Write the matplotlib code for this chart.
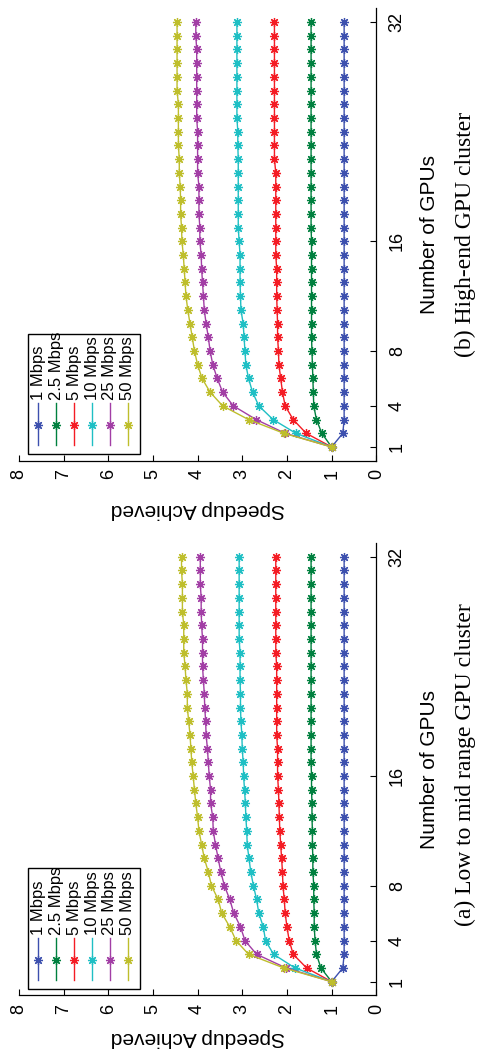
import matplotlib
matplotlib.use('Agg')
import matplotlib.pyplot as plt
from matplotlib.patches import Rectangle

# Number of GPUs (x of the original plot)
gpus = [1, 2, 3, 4, 5, 6, 7, 8, 9, 10, 11, 12, 13, 14, 15, 16,
        17, 18, 19, 20, 21, 22, 23, 24, 25, 26, 27, 28, 29, 30, 31, 32]
gpu_ticks = [1, 4, 8, 16, 32]
speed_ticks = [0, 1, 2, 3, 4, 5, 6, 7, 8]
labels = ['1 Mbps', '2.5 Mbps', '5 Mbps', '10 Mbps', '25 Mbps', '50 Mbps']
colors = ['#3d50ae', '#00803f', '#f41c24', '#1fbfc4', '#a23ea5', '#bebe2c']

# (a) Low to mid range GPU cluster
a_1 = [1.00, 0.75, 0.72, 0.72, 0.72, 0.72, 0.72, 0.72, 0.72, 0.72, 0.72, 0.72, 0.72, 0.72, 0.72, 0.72,
       0.72, 0.72, 0.72, 0.72, 0.72, 0.72, 0.72, 0.72, 0.72, 0.72, 0.72, 0.72, 0.72, 0.72, 0.72, 0.72]
a_2_5 = [1.00, 1.24, 1.34, 1.37, 1.39, 1.39, 1.40, 1.40, 1.42, 1.42, 1.43, 1.43, 1.44, 1.44, 1.45, 1.45,
         1.46, 1.46, 1.46, 1.46, 1.46, 1.46, 1.46, 1.46, 1.46, 1.46, 1.46, 1.46, 1.46, 1.46, 1.46, 1.46]
a_5 = [1.00, 1.56, 1.86, 1.95, 2.00, 2.04, 2.06, 2.09, 2.10, 2.12, 2.14, 2.16, 2.17, 2.18, 2.19, 2.21,
       2.21, 2.21, 2.23, 2.23, 2.23, 2.23, 2.23, 2.23, 2.25, 2.25, 2.25, 2.25, 2.25, 2.25, 2.25, 2.25]
a_10 = [1.00, 1.82, 2.30, 2.48, 2.53, 2.63, 2.68, 2.75, 2.81, 2.85, 2.89, 2.90, 2.92, 2.93, 2.95, 2.97,
        2.98, 3.00, 3.01, 3.03, 3.04, 3.04, 3.05, 3.05, 3.05, 3.07, 3.07, 3.07, 3.07, 3.07, 3.07, 3.07]
a_25 = [1.00, 2.02, 2.68, 2.94, 3.04, 3.19, 3.28, 3.40, 3.48, 3.54, 3.60, 3.65, 3.66, 3.71, 3.71, 3.74,
        3.76, 3.78, 3.81, 3.82, 3.84, 3.85, 3.87, 3.89, 3.89, 3.89, 3.91, 3.92, 3.92, 3.94, 3.94, 3.94]
a_50 = [1.00, 2.07, 2.86, 3.14, 3.28, 3.46, 3.54, 3.69, 3.76, 3.85, 3.91, 3.97, 4.00, 4.04, 4.07, 4.10,
        4.13, 4.15, 4.17, 4.20, 4.23, 4.23, 4.26, 4.28, 4.31, 4.31, 4.31, 4.34, 4.34, 4.34, 4.36, 4.36]

# (b) High-end GPU cluster
b_1 = [1.00, 0.75, 0.72, 0.72, 0.72, 0.72, 0.72, 0.72, 0.72, 0.72, 0.72, 0.72, 0.72, 0.72, 0.72, 0.72,
       0.72, 0.72, 0.72, 0.72, 0.72, 0.72, 0.72, 0.72, 0.72, 0.72, 0.72, 0.72, 0.72, 0.72, 0.72, 0.72]
b_2_5 = [1.00, 1.22, 1.34, 1.40, 1.41, 1.42, 1.43, 1.44, 1.45, 1.45, 1.45, 1.45, 1.45, 1.45, 1.45, 1.45,
         1.46, 1.46, 1.46, 1.46, 1.46, 1.46, 1.46, 1.46, 1.46, 1.46, 1.46, 1.46, 1.46, 1.46, 1.46, 1.46]
b_5 = [1.00, 1.57, 1.86, 2.04, 2.10, 2.14, 2.18, 2.19, 2.21, 2.21, 2.22, 2.23, 2.23, 2.23, 2.25, 2.25,
       2.25, 2.25, 2.25, 2.25, 2.25, 2.28, 2.28, 2.28, 2.28, 2.28, 2.28, 2.28, 2.28, 2.28, 2.28, 2.28]
b_10 = [1.00, 1.80, 2.31, 2.63, 2.77, 2.86, 2.92, 2.94, 2.96, 2.98, 3.03, 3.04, 3.05, 3.05, 3.05, 3.07,
        3.09, 3.09, 3.09, 3.09, 3.09, 3.09, 3.10, 3.10, 3.12, 3.12, 3.12, 3.12, 3.12, 3.12, 3.12, 3.12]
b_25 = [1.00, 2.04, 2.69, 3.20, 3.44, 3.56, 3.66, 3.72, 3.76, 3.81, 3.85, 3.87, 3.89, 3.91, 3.92, 3.95,
        3.95, 3.97, 3.97, 3.97, 4.00, 4.00, 4.00, 4.00, 4.02, 4.02, 4.02, 4.02, 4.02, 4.02, 4.04, 4.04]
b_50 = [1.00, 2.07, 2.86, 3.44, 3.72, 3.90, 4.00, 4.07, 4.12, 4.17, 4.22, 4.26, 4.28, 4.30, 4.32, 4.35,
        4.36, 4.38, 4.38, 4.39, 4.41, 4.41, 4.43, 4.43, 4.43, 4.43, 4.46, 4.46, 4.46, 4.46, 4.46, 4.46]

panels = [
    ([a_1, a_2_5, a_5, a_10, a_25, a_50], '(a) Low to mid range GPU cluster'),
    ([b_1, b_2_5, b_5, b_10, b_25, b_50], '(b) High-end GPU cluster'),
]

W, H = 479, 1049
SANS = 'Liberation Sans'
SERIF = 'Liberation Serif'
STAR = (8, 2, 0)  # matlab style asterisk


def px(x, y):
    """pixel position (from top left) -> figure fraction"""
    return x / W, 1 - y / H


def draw_panel(fig, rect, series, caption, cap_y, lab_y):
    ax = fig.add_axes(rect)
    # the whole original figure is turned 90 deg counter clockwise:
    # speedup runs right->left along the bottom, GPUs run up on the right
    for vals, col in zip(series, colors):
        ax.plot(vals, gpus, color=col, lw=1.0, marker=STAR, ms=6.5, mew=0.9)
    ax.set_xlim(8, 0)
    ax.set_ylim(0, 33)

    ax.spines['top'].set_visible(False)
    ax.spines['left'].set_visible(False)
    ax.spines['bottom'].set_linewidth(0.9)
    ax.spines['right'].set_linewidth(0.9)
    ax.yaxis.tick_right()
    ax.yaxis.set_label_position('right')

    ax.set_xticks(speed_ticks)
    ax.set_xticklabels([str(t) for t in speed_ticks], rotation=90,
                       fontsize=13, family=SANS)
    ax.set_yticks(gpu_ticks)
    ax.set_yticklabels([str(t) for t in gpu_ticks], rotation=90,
                       fontsize=13, family=SANS, va='center')
    ax.tick_params(axis='x', direction='in', length=4, width=0.8, pad=6)
    ax.tick_params(axis='y', direction='in', length=4, width=0.8, pad=9)

    ax.set_xlabel('Speedup Achieved', rotation=180, fontsize=15, family=SANS,
                  ha='center', va='center')
    ax.xaxis.set_label_coords(0.5, lab_y)
    ax.set_ylabel('Number of GPUs', rotation=90, fontsize=15, family=SANS,
                  ha='center', va='center')
    ax.yaxis.set_label_coords(1.150, 0.5)

    # legend, drawn by hand since it is turned as well
    ax.add_patch(Rectangle((0.0255, 0.015), 0.3135, 0.266, transform=ax.transAxes,
                           facecolor='white', edgecolor='black', lw=1.0, zorder=5))
    for i, (lab, col) in enumerate(zip(labels, colors)):
        lx = 0.0543 + i * 0.0501
        ax.plot([lx, lx], [0.034, 0.127], color=col, lw=1.0,
                transform=ax.transAxes, zorder=6)
        ax.plot([lx], [0.078], color=col, marker=STAR, ms=6.5, mew=0.9,
                transform=ax.transAxes, zorder=7)
        ax.text(lx, 0.134, lab, rotation=90, rotation_mode='anchor',
                ha='left', va='center', fontsize=12, family=SANS,
                transform=ax.transAxes, zorder=7)

    fig.text(*px(465, cap_y), caption, rotation=90, ha='center', va='center',
             fontsize=17, family=SERIF)
    return ax


fig = plt.figure(figsize=(W / 100, H / 100), dpi=100)
fig.patch.set_facecolor('white')

left = 18.9 / W
width = (376.3 - 18.9) / W
height = 452.4 / H
# panel (a) at the bottom, panel (b) on top
draw_panel(fig, [left, 1 - 995.4 / H, width, height], panels[0][0], panels[0][1], 765, -0.092)
draw_panel(fig, [left, 1 - 460.7 / H, width, height], panels[1][0], panels[1][1], 234, -0.107)

fig.savefig('out.png', dpi=100, facecolor='white')
